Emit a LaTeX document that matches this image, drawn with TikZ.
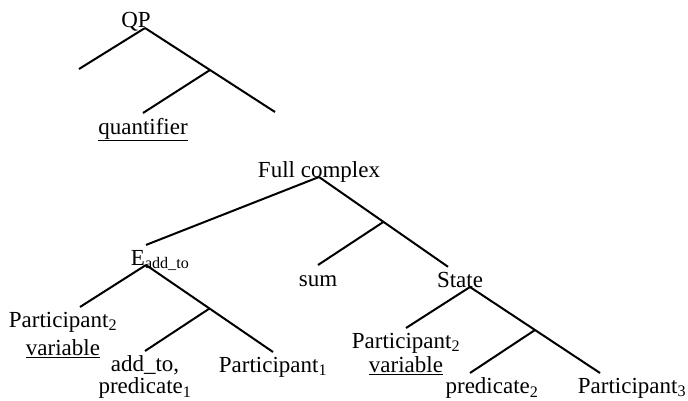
\documentclass[tikz,border=0pt]{standalone}
\usepackage{fontspec}
\setmainfont{Liberation Serif}

\begin{document}
\begin{tikzpicture}[x=1pt,y=-1pt,line width=2pt,
  every node/.style={font=\fontsize{23}{24}\selectfont,inner sep=5pt,outer sep=0pt},
  kid/.style={anchor=north,align=center},
  head/.style={anchor=base}]
\useasboundingbox (0,0) rectangle (688,401);

\node[head] (qp) at (136,28) {QP};
\coordinate (qleft) at (79,69);
\coordinate (qright) at (275,112);
\node[kid] (quant) at (143,113) {\underline{quantifier}};
\draw ([xshift=9pt]qp.base) -- (qleft);
\draw ([xshift=9pt]qp.base) -- coordinate[pos=0.5] (qmid) (qright);
\draw (qmid) -- (quant.north);

\node[head] (full) at (319,177) {Full complex};
\node[head,anchor=base east,inner xsep=1pt] (ev) at (146,265) {E\rlap{\textsubscript{add\_to}}};
\node[kid,text height=16pt] (sum) at (318,265) {sum};
\node[head] (state) at (460,287) {State};
\draw (full.base) -- (ev.north east);
\draw (full.base) -- coordinate[pos=0.5] (fmid) ([xshift=-12pt]state.north);
\draw (fmid) -- (sum.north);

\node[kid] (partl) at (63,307) {Participant\textsubscript{2}\\[4pt]\underline{variable}};
\node[kid] (addto) at (145,351) {add\_to,\\[-2pt]predicate\textsubscript{1}};
\node[kid] (parta) at (273,352) {Participant\textsubscript{1}};
\draw (ev.base east) -- ([xshift=17pt]partl.north);
\draw (ev.base east) -- coordinate[pos=0.5] (emid) (parta.north);
\draw (emid) -- (addto.north);

\node[kid] (partr) at (406,328) {Participant\textsubscript{2}\\\underline{variable}};
\node[kid] (predb) at (492,373) {predicate\textsubscript{2}};
\node[kid] (partc) at (632,373) {Participant\textsubscript{3}};
\draw ([xshift=10pt]state.base) -- (partr.north);
\draw ([xshift=10pt]state.base) -- coordinate[pos=0.5] (smid) ([xshift=-32pt]partc.north);
\draw (smid) -- ([xshift=-22pt]predb.north);
\end{tikzpicture}
\end{document}
